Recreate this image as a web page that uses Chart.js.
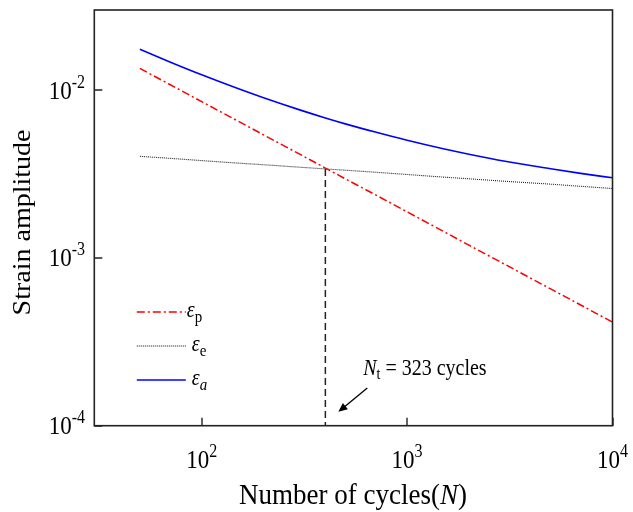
<!DOCTYPE html>
<html>
<head>
<meta charset="utf-8">
<script src="https://cdn.jsdelivr.net/npm/chart.js@4/dist/chart.umd.min.js"></script>
<style>
html,body{margin:0;padding:0;background:#fff;}
#wrap{width:633px;height:512px;position:relative;}
</style>
</head>
<body>
<div id="wrap"><canvas id="c"></canvas></div>
<script>
// ---- data ----
const cycles = [50, 70, 100, 150, 200, 300, 400, 500, 700, 1000, 1500, 2000, 3000, 5000, 7000, 10000];
const epsPlastic = [0.01346, 0.01079, 0.00853, 0.00654, 0.00541, 0.00415, 0.00343, 0.00296, 0.00238, 0.00188, 0.00144, 0.00119, 0.000914, 0.000653, 0.000524, 0.000414];
const epsElastic = [0.00403, 0.00392, 0.00380, 0.00367, 0.00359, 0.00347, 0.00339, 0.00333, 0.00324, 0.00314, 0.00303, 0.00296, 0.00286, 0.00275, 0.00267, 0.00259];
const epsTotal = [0.01749, 0.01471, 0.01233, 0.01021, 0.00900, 0.00762, 0.00682, 0.00629, 0.00562, 0.00502, 0.00447, 0.00415, 0.00377, 0.00340, 0.00319, 0.00300];
const transitionN = [400, 400];
const transitionEps = [0.00338, 0.0001];
const xTickValues = [100, 1000, 10000];
const xTickExps = ['2', '3', '4'];
const yTickValues = [0.0001, 0.001, 0.01];
const yTickExps = ['-4', '-3', '-2'];
const xRange = [30, 10000];
const yRange = [0.0001, 0.03];
const annotationText = ['N', 't', ' = 323 cycles'];
const annotationAt = [611, 0.0002];
const arrowFrom = [640, 0.000168];
const arrowTo = [463, 0.000121];
const legendNames = [['\u03b5', 'p', false], ['\u03b5', 'e', false], ['\u03b5', 'a', true]];

const SERIF = '"Liberation Serif", "Times New Roman", serif';
const SY = 1.12; // vertical stretch of the reference's text

function pts(xs, ys) { return xs.map((x, i) => ({x: x, y: ys[i]})); }

function runs(ctx, list, x, y, align) {
  let total = 0;
  const ws = list.map(r => { ctx.font = r.font; const w = ctx.measureText(r.s).width; total += w; return w; });
  let cx = align === 'center' ? x - total / 2 : align === 'right' ? x - total : x;
  list.forEach((r, i) => {
    ctx.save();
    ctx.translate(cx, y + (r.dy || 0));
    ctx.scale(1, SY);
    ctx.font = r.font;
    ctx.textAlign = 'left';
    ctx.textBaseline = 'alphabetic';
    ctx.fillStyle = '#000';
    ctx.fillText(r.s, 0, 0);
    ctx.restore();
    cx += ws[i];
  });
}

const deco = {
  id: 'deco',
  afterDraw(chart) {
    const ctx = chart.ctx, a = chart.chartArea, xs = chart.scales.x, ys = chart.scales.y;
    ctx.save();
    // frame
    ctx.strokeStyle = '#222';
    ctx.lineWidth = 1.6;
    ctx.strokeRect(a.left, a.top, a.right - a.left, a.bottom - a.top);
    // ticks (inward)
    ctx.lineWidth = 1.4;
    ctx.beginPath();
    xTickValues.forEach(v => { const px = Math.round(xs.getPixelForValue(v)); ctx.moveTo(px, a.bottom); ctx.lineTo(px, a.bottom - 8); });
    yTickValues.forEach(v => { const py = Math.round(ys.getPixelForValue(v)); ctx.moveTo(a.left, py); ctx.lineTo(a.left + 8, py); });
    ctx.stroke();
    // tick labels
    const big = '23px ' + SERIF, small = '16px ' + SERIF;
    xTickValues.forEach((v, i) => {
      const px = xs.getPixelForValue(v);
      runs(ctx, [{s: '10', font: big}, {s: xTickExps[i], font: small, dy: -11}], px, 468, 'center');
    });
    yTickValues.forEach((v, i) => {
      const py = ys.getPixelForValue(v);
      runs(ctx, [{s: '10', font: big}, {s: yTickExps[i], font: small, dy: -11}], 85, py + 8.6, 'right');
    });
    // axis titles
    runs(ctx, [{s: 'Number of cycles(', font: '27px ' + SERIF}, {s: 'N', font: 'italic 27px ' + SERIF}, {s: ')', font: '27px ' + SERIF}], 353, 504, 'center');
    ctx.save();
    ctx.translate(30, 222.5);
    ctx.rotate(-Math.PI / 2);
    ctx.scale(SY, 1);
    ctx.font = '25px ' + SERIF;
    ctx.textAlign = 'center';
    ctx.textBaseline = 'alphabetic';
    ctx.fillStyle = '#000';
    ctx.fillText('Strain amplitude', 0, 0);
    ctx.restore();
    // legend
    const ds = chart.data.datasets;
    const rowsY = [a.top + 302, a.top + 336, a.top + 370];
    for (let i = 0; i < 3; i++) {
      const d = ds[i];
      ctx.save();
      ctx.strokeStyle = d.borderColor;
      ctx.lineWidth = d.borderWidth;
      ctx.setLineDash(d.borderDash || []);
      ctx.beginPath();
      ctx.moveTo(a.left + 42.5, rowsY[i]);
      ctx.lineTo(a.left + 91.5, rowsY[i]);
      ctx.stroke();
      ctx.restore();
      const nm = legendNames[i];
      const lx = a.left + (i === 0 ? 92.5 : 97.5);
      runs(ctx, [{s: nm[0], font: 'italic 20px ' + SERIF}, {s: nm[1], font: (nm[2] ? 'italic ' : '') + '15px ' + SERIF, dy: 5}], lx, rowsY[i] + 5, 'left');
    }
    // annotation
    const ax = xs.getPixelForValue(annotationAt[0]), ay = ys.getPixelForValue(annotationAt[1]);
    runs(ctx, [{s: annotationText[0], font: 'italic 20px ' + SERIF}, {s: annotationText[1], font: '14px ' + SERIF, dy: 4}, {s: annotationText[2], font: '20px ' + SERIF}], ax, ay, 'left');
    // arrow
    const x1 = xs.getPixelForValue(arrowFrom[0]), y1 = ys.getPixelForValue(arrowFrom[1]);
    const x2 = xs.getPixelForValue(arrowTo[0]), y2 = ys.getPixelForValue(arrowTo[1]);
    const ang = Math.atan2(y2 - y1, x2 - x1);
    const hl = 9, hw = 4;
    ctx.strokeStyle = '#000';
    ctx.fillStyle = '#000';
    ctx.lineWidth = 1.3;
    ctx.beginPath();
    ctx.moveTo(x1, y1);
    ctx.lineTo(x2 - Math.cos(ang) * hl * 0.8, y2 - Math.sin(ang) * hl * 0.8);
    ctx.stroke();
    ctx.beginPath();
    ctx.moveTo(x2, y2);
    ctx.lineTo(x2 - Math.cos(ang) * hl - Math.sin(ang) * hw, y2 - Math.sin(ang) * hl + Math.cos(ang) * hw);
    ctx.lineTo(x2 - Math.cos(ang) * hl + Math.sin(ang) * hw, y2 - Math.sin(ang) * hl - Math.cos(ang) * hw);
    ctx.closePath();
    ctx.fill();
    ctx.restore();
  }
};

new Chart(document.getElementById('c'), {
  type: 'line',
  data: {
    datasets: [
      {label: 'eps_p', data: pts(cycles, epsPlastic), borderColor: '#ff0000', borderWidth: 1.5, borderDash: [8, 3, 2, 3], pointRadius: 0, tension: 0},
      {label: 'eps_e', data: pts(cycles, epsElastic), borderColor: '#222222', borderWidth: 1.1, borderDash: [1, 1], pointRadius: 0, tension: 0},
      {label: 'eps_a', data: pts(cycles, epsTotal), borderColor: '#0000ff', borderWidth: 1.6, pointRadius: 0, cubicInterpolationMode: 'monotone'},
      {label: 'Nt', data: pts(transitionN, transitionEps), borderColor: '#222222', borderWidth: 1.5, borderDash: [7, 4], pointRadius: 0}
    ]
  },
  options: {
    responsive: true,
    maintainAspectRatio: false,
    animation: false,
    events: [],
    layout: {padding: {left: 94.3, top: 10, right: 20.5, bottom: 86.3}},
    plugins: {legend: {display: false}, tooltip: {enabled: false}},
    scales: {
      x: {type: 'logarithmic', min: xRange[0], max: xRange[1], display: false},
      y: {type: 'logarithmic', min: yRange[0], max: yRange[1], display: false}
    }
  },
  plugins: [deco]
});
</script>
</body>
</html>
